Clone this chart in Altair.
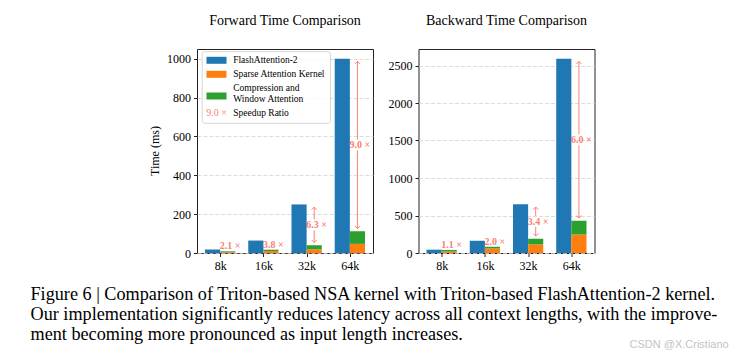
import json
import altair as alt
import pandas as pd

# ---------------- data ----------------
categories = ["8k", "16k", "32k", "64k"]

fwd_flash = [18, 64, 250, 1000]
fwd_sparse = [4, 10, 19, 47]
fwd_comp = [4.5, 7, 21, 65]
fwd_speedup = [2.1, 3.8, 6.3, 9.0]

bwd_flash = [44, 163, 650, 2590]
bwd_sparse = [20, 61, 114, 246]
bwd_comp = [20, 22, 76, 184]
bwd_speedup = [1.1, 2.0, 3.4, 6.0]

fwd_ticks = [0, 200, 400, 600, 800, 1000]
bwd_ticks = [0, 500, 1000, 1500, 2000, 2500]

panel_titles = ["Forward Time Comparison", "Backward Time Comparison"]
y_title = "Time (ms)"
legend_labels = ["FlashAttention-2", "Sparse Attention Kernel",
                 "Compression and", "Window Attention", "Speedup Ratio"]
legend_ratio = "9.0 ×"
caption_lines = [
    "Figure 6 | Comparison of Triton-based NSA kernel with Triton-based FlashAttention-2 kernel.",
    "Our implementation significantly reduces latency across all context lengths, with the improve-",
    "ment becoming more pronounced as input length increases.",
]
watermark = "CSDN @X.Cristiano"

# ---------------- style ----------------
BLUE, ORANGE, GREEN, SALMON = "#1f77b4", "#ff7f0e", "#2ca02c", "#fa8072"
SERIF = "Liberation Serif"
W, H = 176, 204
BAR = 0.35
UP = "M -1 1 L 0 0 L 1 1"
DOWN = "M -1 -1 L 0 0 L 1 -1"
CAP = 18.2


def make_df(flash, sparse, comp, speed):
    rows = []
    for i, c in enumerate(categories):
        tot = sparse[i] + comp[i]
        rows.append(dict(i=i, cat=c, x0=i - BAR, x1=i, x2=i + BAR, xc=i + BAR / 2,
                         zero=0, flash=flash[i], sparse=sparse[i], total=tot,
                         mid=(flash[i] + tot) / 2, label=f"{speed[i]:.1f} ×",
                         arrow=i >= 2))
    return pd.DataFrame(rows)


def txt(s, x, y, **kw):
    return alt.Chart(pd.DataFrame({"t": [s]})).mark_text(**kw).encode(
        x=alt.value(x), y=alt.value(y), text="t:N")


def box(x1, x2, y1, y2, **kw):
    return alt.Chart(pd.DataFrame({"a": [0]})).mark_rect(**kw).encode(
        x=alt.value(x1), x2=alt.value(x2), y=alt.value(y1), y2=alt.value(y2))


def panel(df, ymax, ticks, title):
    xs = alt.Scale(domain=[-0.535, 3.535], nice=False, zero=False)
    ys = alt.Scale(domain=[0, ymax], nice=False)
    base = alt.Chart(df)
    X = alt.X("x0:Q", scale=xs, axis=alt.Axis(values=[0, 1, 2, 3], grid=False, title=None,
                                               labelExpr=json.dumps(categories) + "[datum.value]"))
    Y = alt.Y("flash:Q", scale=ys, axis=alt.Axis(values=ticks, grid=True, title=None, format="d"))
    blue = base.mark_rect(color=BLUE).encode(x=X, x2="x1:Q", y=Y, y2="zero:Q")
    orange = base.mark_rect(color=ORANGE).encode(x="x1:Q", x2="x2:Q", y="zero:Q", y2="sparse:Q")
    green = base.mark_rect(color=GREEN).encode(x="x1:Q", x2="x2:Q", y="sparse:Q", y2="total:Q")

    small = base.transform_filter("!datum.arrow")
    big = base.transform_filter("datum.arrow")
    tstyle = dict(font=SERIF, fontSize=10, fontWeight="bold", color=SALMON, align="center", dx=2.5)
    small_txt = small.mark_text(baseline="alphabetic", dy=-2, **tstyle).encode(
        x="xc:Q", y="total:Q", text="label:N")
    seg_up = big.mark_rule(color=SALMON, strokeWidth=1, yOffset=-5.5, y2Offset=2.7).encode(
        x="xc:Q", y="mid:Q", y2="flash:Q")
    seg_dn = big.mark_rule(color=SALMON, strokeWidth=1, yOffset=-2.7, y2Offset=5.5).encode(
        x="xc:Q", y="total:Q", y2="mid:Q")
    head_up = big.mark_point(shape=UP, size=25, filled=False, strokeWidth=1, color=SALMON,
                             opacity=1, yOffset=2.7).encode(x="xc:Q", y="flash:Q")
    head_dn = big.mark_point(shape=DOWN, size=25, filled=False, strokeWidth=1, color=SALMON,
                             opacity=1, yOffset=-2.7).encode(x="xc:Q", y="total:Q")
    mid_txt = big.mark_text(baseline="middle", **tstyle).encode(x="xc:Q", y="mid:Q", text="label:N")

    ttl = txt(title, W / 2, -24, font=SERIF, fontSize=14, align="center",
              baseline="alphabetic", color="black")
    return [blue, orange, green, small_txt, seg_up, seg_dn, head_up, head_dn, mid_txt, ttl]


fwd = make_df(fwd_flash, fwd_sparse, fwd_comp, fwd_speedup)
bwd = make_df(bwd_flash, bwd_sparse, bwd_comp, bwd_speedup)

lf = dict(font=SERIF, fontSize=9.5, color="black", align="left", baseline="middle")
legend = [
    box(5.2, 133.5, 2.7, 74.3, fill="white", fillOpacity=0.8, stroke="#cccccc",
        strokeWidth=0.8, cornerRadius=2.5),
    box(9.5, 29.5, 7.8, 14.8, color=BLUE),
    box(9.5, 29.5, 21.8, 28.8, color=ORANGE),
    box(9.5, 29.5, 43.5, 50.5, color=GREEN),
    txt(legend_labels[0], 36.2, 11.3, **lf),
    txt(legend_labels[1], 36.2, 25.3, **lf),
    txt(legend_labels[2], 36.2, 39.3, **lf),
    txt(legend_labels[3], 36.2, 50.0, **lf),
    txt(legend_labels[4], 36.2, 64.3, **lf),
    txt(legend_ratio, 19.5, 64.3, font=SERIF, fontSize=10, color=SALMON,
        align="center", baseline="middle"),
]

extras = [
    txt(y_title, -42.5, H / 2, font=SERIF, fontSize=12, angle=270, align="center",
        baseline="middle", color="black"),
    txt(caption_lines[0], -166.5, 251, font=SERIF, fontSize=CAP, align="left",
        baseline="alphabetic", color="black"),
    txt(caption_lines[1], -166.5, 271, font=SERIF, fontSize=CAP, align="left",
        baseline="alphabetic", color="black"),
    txt(caption_lines[2], -166.5, 291, font=SERIF, fontSize=CAP, align="left",
        baseline="alphabetic", color="black"),
    txt(watermark, 432.5, 298.7, font="Liberation Sans", fontSize=11, align="left",
        baseline="alphabetic", color="#c4c4c4"),
    alt.Chart(pd.DataFrame({"a": [0]})).mark_rule(opacity=0).encode(
        x=alt.value(-188), y=alt.value(-40.5), y2=alt.value(-39.5)),
]

left = alt.layer(*panel(fwd, 1050, fwd_ticks, panel_titles[0]), *legend, *extras).properties(
    width=W, height=H)
right = alt.layer(*panel(bwd, 2720, bwd_ticks, panel_titles[1])).properties(width=W, height=H)

chart = alt.hconcat(left, right, spacing=45.5, bounds="flush").properties(
    padding=0, background="white"
).configure_view(stroke="#222222", strokeWidth=1).configure_axis(
    labelFont=SERIF, labelFontSize=12, labelColor="black", tickColor="#222222",
    tickSize=3.5, labelPadding=3, domain=False, gridColor="#d3d3d3",
    gridDash=[4, 2], gridWidth=0.8
).configure_axisX(labelPadding=4)

chart.save("out.html", embed_options={"renderer": "svg", "actions": False})
